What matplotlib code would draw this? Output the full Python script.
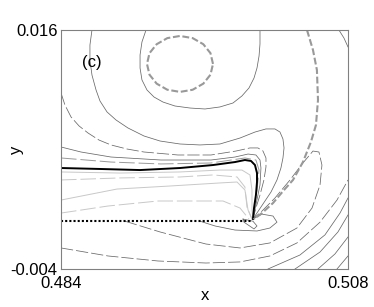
import numpy as np
import matplotlib
matplotlib.use("Agg")
import matplotlib.pyplot as plt

plt.rcParams['font.family'] = ['Liberation Sans', 'DejaVu Sans']

# contour lines, in units of 1e-3
vortex_x = [496.71, 496.50, 495.90, 495.01, 493.95, 492.89, 492.00, 491.40, 491.19,
            491.40, 492.00, 492.89, 493.95, 495.01, 495.90, 496.50, 496.71]
vortex_y = [13.16, 14.06, 14.81, 15.32, 15.50, 15.32, 14.81, 14.06, 13.16,
            12.26, 11.51, 11.00, 10.82, 11.00, 11.51, 12.26, 13.16]

ring_x = [491.11, 490.77, 490.61, 490.61, 490.77, 491.19, 491.78, 492.53, 493.53, 494.79,
          496.04, 497.29, 498.38, 499.13, 499.72, 500.14, 500.39, 500.56, 500.64, 500.64]
ring_y = [16.00, 15.00, 13.91, 12.82, 11.82, 10.98, 10.39, 9.97, 9.64, 9.47,
          9.39, 9.56, 9.89, 10.48, 11.15, 11.98, 12.82, 13.82, 14.83, 16.00]

sep_x = [504.57, 505.07, 505.40, 505.49, 505.32, 504.90, 504.23, 503.40, 502.65,
         501.73, 500.81, 500.14]
sep_y = [16.00, 14.33, 12.65, 10.14, 8.05, 6.63, 4.95, 3.45, 2.61, 1.52, 0.68, 0.18]

corner_x = [507.24, 507.66, 508.00]
corner_y = [16.00, 15.33, 14.58]

a_x = [486.59, 486.42, 486.42, 486.59, 486.93, 487.26, 487.85, 488.60, 489.60, 490.94,
       492.28, 493.95, 495.62, 497.29, 498.97, 500.22, 501.14, 501.89, 502.31, 502.56,
       502.65, 502.56, 502.39, 502.06, 501.56, 500.89, 500.05]
a_y = [16.00, 14.74, 13.49, 12.23, 10.98, 10.06, 9.14, 8.47, 7.80, 7.13,
       6.71, 6.46, 6.38, 6.46, 6.96, 7.46, 7.72, 7.72, 7.46, 6.88,
       6.13, 5.29, 4.45, 3.45, 2.44, 1.44, 0.18]

b_x = [484.00, 484.33, 484.84, 485.51, 486.26, 487.18, 488.18, 489.52, 490.94, 493.78,
       496.54, 498.63, 499.80, 500.47, 500.89, 501.14, 501.14, 500.97, 500.64, 500.30, 500.05]
b_y = [10.73, 9.72, 8.72, 7.97, 7.38, 6.79, 6.38, 6.04, 5.79, 5.54,
       5.54, 5.87, 6.13, 6.13, 5.87, 5.29, 4.54, 3.45, 2.19, 1.10, 0.18]

c1_x = [484.00, 485.67, 488.18, 492.36, 496.54, 498.55, 499.64, 500.30, 500.64, 500.72,
        500.64, 500.30, 500.05]
c1_y = [6.21, 5.79, 5.37, 5.12, 5.12, 5.37, 5.62, 5.54, 5.12, 4.45, 3.03, 1.36, 0.18]

c2_x = [484.00, 488.18, 492.36, 496.54, 499.38, 500.30, 500.56, 500.39, 500.14, 500.05]
c2_y = [5.29, 4.95, 4.79, 4.87, 5.29, 5.12, 4.28, 2.61, 0.94, 0.18]

thick_x = [484.00, 487.26, 490.61, 493.95, 496.71, 498.55, 499.38, 499.89, 500.22, 500.39,
           500.39, 500.30, 500.14, 500.05]
thick_y = [4.45, 4.37, 4.28, 4.45, 4.70, 4.95, 5.12, 5.04, 4.70, 4.03,
           3.28, 2.19, 1.10, 0.18]

g1_x = [484.00, 488.93, 493.95, 497.29, 499.13, 499.80, 499.97, 499.97, 500.05]
g1_y = [4.12, 4.03, 4.12, 4.28, 4.28, 3.87, 2.61, 0.94, 0.18]
g2_x = [484.00, 488.93, 493.95, 496.71, 498.72, 499.38, 499.55, 499.97]
g2_y = [3.45, 3.62, 3.70, 3.87, 3.70, 2.86, 1.19, 0.18]
g3_x = [484.00, 488.68, 493.20, 497.29, 498.72, 499.38, 499.64, 499.97]
g3_y = [1.77, 2.69, 2.95, 3.20, 3.28, 2.61, 0.94, 0.18]
g4_x = [484.00, 487.93, 492.11, 495.87, 497.55, 498.97, 499.72]
g4_y = [0.68, 1.27, 1.69, 1.69, 1.69, 1.10, 0.18]

crack_x = [484.0, 500.0]
crack_y = [0.0, 0.0]

tip_x = [499.22, 500.05, 500.39, 500.14, 499.30, 499.22]
tip_y = [0.18, 0.00, -0.40, -0.65, -0.08, 0.18]

loop_x = [495.62, 496.88, 498.55, 500.39, 501.47, 502.06, 501.73, 500.81, 500.05]
loop_y = [0.00, -0.40, -0.74, -0.82, -0.57, -0.08, 0.43, 0.59, 0.18]

d_x = [489.35, 492.28, 496.12, 498.97, 501.47, 503.73, 504.99, 505.66, 505.82,
       505.57, 505.07, 504.23, 503.15, 501.89, 500.81, 500.05]
d_y = [0.00, -0.90, -1.91, -2.24, -1.82, -0.57, 1.10, 3.03, 4.70,
       5.79, 5.87, 4.87, 3.45, 1.94, 0.85, 0.18]

f_x = [484.00, 487.93, 492.11, 496.12, 498.97, 501.47, 503.73, 505.66, 507.08, 508.00]
f_y = [-2.24, -2.91, -3.33, -3.50, -3.41, -2.91, -1.82, -0.08, 1.77, 3.45]

e1_x = [501.31, 503.98, 506.07, 507.33, 508.00]
e1_y = [-4.00, -2.83, -1.15, 0.68, 1.94]
e2_x = [503.57, 505.66, 507.16, 508.00]
e2_y = [-4.00, -2.58, -0.90, 0.52]
e3_x = [505.49, 506.91, 508.00]
e3_y = [-4.00, -2.74, -1.32]
e4_x = [507.08, 508.00]
e4_y = [-4.00, -2.91]

fig = plt.figure(figsize=(3.74, 3.07), dpi=100)
ax = fig.add_axes([0.1631, 0.1238, 0.7674, 0.7785])

k = 1e-3
dark = '#686868'
light = '#c8c8c8'
longdash = (0, (16, 4))

def line(xs, ys, **kw):
    ax.plot(np.array(xs) * k, np.array(ys) * k, solid_joinstyle='round', **kw)

line(ring_x, ring_y, color=dark, lw=0.55)
line(corner_x, corner_y, color=dark, lw=0.55)
line(a_x, a_y, color=dark, lw=0.55)
line(b_x, b_y, color=dark, lw=0.55, ls=longdash)
line(c1_x, c1_y, color=dark, lw=0.55)
line(c2_x, c2_y, color='#999999', lw=0.7, ls=longdash)
line(g1_x, g1_y, color=light, lw=0.7)
line(g2_x, g2_y, color=light, lw=0.7, ls=longdash)
line(g3_x, g3_y, color=light, lw=0.7)
line(g4_x, g4_y, color=light, lw=0.7, ls=longdash)
line(thick_x, thick_y, color='black', lw=1.4)
line(tip_x, tip_y, color=dark, lw=0.55)
line(loop_x, loop_y, color=dark, lw=0.55)
line(d_x, d_y, color=dark, lw=0.55, ls=longdash)
line(f_x, f_y, color=dark, lw=0.55, ls=longdash)
for ex, ey in [(e1_x, e1_y), (e2_x, e2_y), (e3_x, e3_y), (e4_x, e4_y)]:
    line(ex, ey, color=dark, lw=0.55)
line(vortex_x, vortex_y, color='#999999', lw=1.5, ls=(0, (3.3, 1.3)))
line(sep_x, sep_y, color='#999999', lw=1.5, ls=(0, (3.3, 1.3)))
line(crack_x, crack_y, color='black', lw=1.5, ls=(0, (1, 1)))

ax.set_xlim(0.484, 0.508)
ax.set_ylim(-0.004, 0.016)
ax.set_xticks([0.484, 0.508])
ax.set_xticklabels(['0.484', '0.508'])
ax.set_yticks([-0.004, 0.016])
ax.set_yticklabels(['-0.004', '0.016'])
ax.tick_params(length=0, labelsize=12)
ax.tick_params(axis='x', pad=5)
ax.tick_params(axis='y', pad=2.5)
for s in ax.spines.values():
    s.set_color('#808080')
    s.set_linewidth(0.8)
ax.set_xlabel('x', fontsize=12, labelpad=-2)
ax.set_ylabel('y', fontsize=12, labelpad=-10)
ax.text(0.108, 0.866, '(c)', transform=ax.transAxes, fontsize=12,
        ha='center', va='center')

fig.savefig('out.png', dpi=100)
